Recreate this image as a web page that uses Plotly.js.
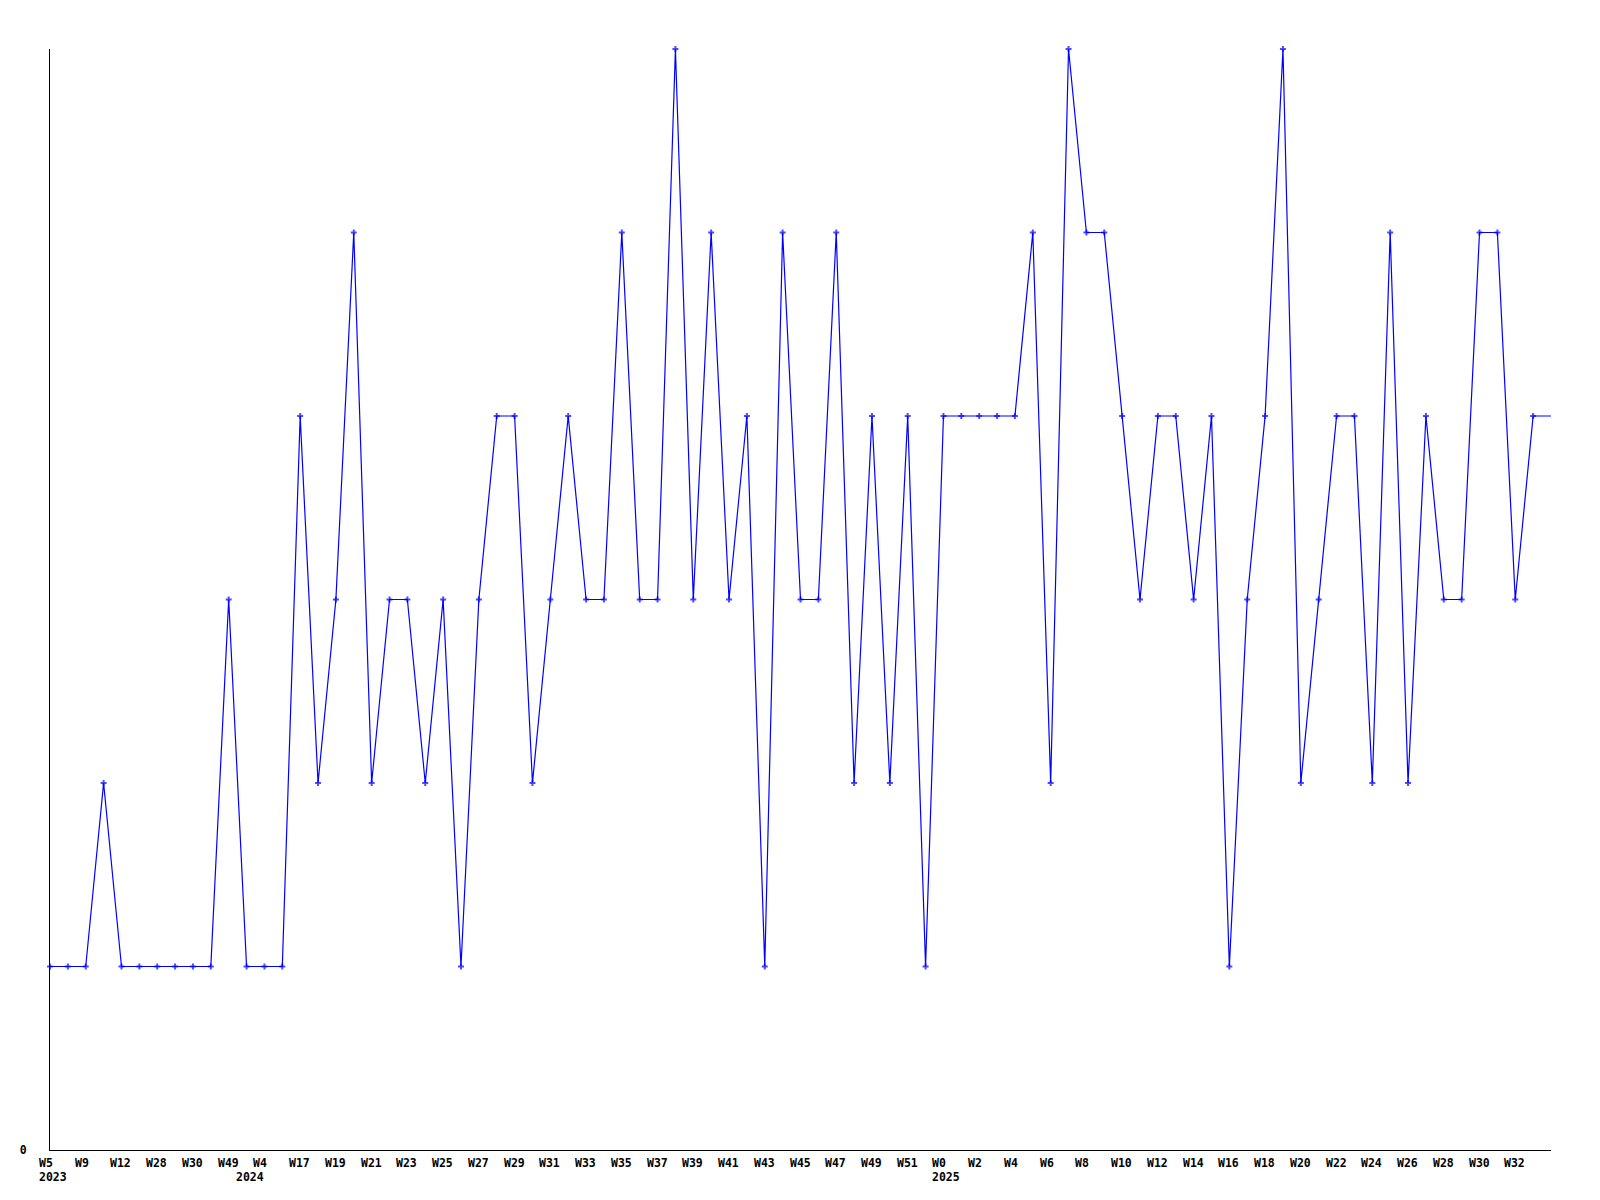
<!DOCTYPE html>
<html>
<head>
<meta charset="utf-8">
<script src="https://cdn.plot.ly/plotly-3.0.1.min.js"></script>
<style>
  html, body { margin: 0; padding: 0; background: #ffffff; }
  #chart { width: 1600px; height: 1200px; }
</style>
</head>
<body>
<div id="chart"></div>
<script>
// Weekly values (one per week, oldest first)
const values = [
  1,1,1,2,1,1,1,1,1,1,
  3,1,1,1,4,2,3,5,2,3,
  3,2,3,1,3,4,4,2,3,4,
  3,3,5,3,3,6,3,5,3,4,
  1,5,3,3,5,2,4,2,4,1,
  4,4,4,4,4,5,2,6,5,5,
  4,3,4,4,3,4,1,3,4,6,
  2,3,4,4,2,5,2,4,3,3,
  5,5,3,4,4
];

// Week labels, shown on every second week
const weekLabels = [
  "W5","W9","W12","W28","W30","W49","W4","W17","W19","W21",
  "W23","W25","W27","W29","W31","W33","W35","W37","W39","W41",
  "W43","W45","W47","W49","W51","W0","W2","W4","W6","W8",
  "W10","W12","W14","W16","W18","W20","W22","W24","W26","W28",
  "W30","W32"
];

// Year labels and the week index where each year starts
const yearLabels = ["2023", "2024", "2025"];
const yearStartWeek = [0, 11, 50];

const xIdx = values.map((v, i) => i);
const tickVals = weekLabels.map((t, i) => i * 2);
const markerSizes = values.map((v, i) => (i < values.length - 1 ? 5 : 0));

const fontFam = '"DejaVu Sans Mono", "Liberation Mono", monospace';
const labelFont = { family: fontFam, size: 11.5, color: '#000000', weight: 'bold' };

const trace = {
  x: xIdx,
  y: values,
  type: 'scatter',
  mode: 'lines+markers',
  line: { color: '#0000ff', width: 1.2 },
  marker: { color: '#0000ff', symbol: 'cross', size: markerSizes, line: { width: 0 } },
  cliponaxis: false,
  hoverinfo: 'skip'
};

const annotations = [];
weekLabels.forEach((t, i) => {
  annotations.push({
    x: tickVals[i], xref: 'x', y: 0, yref: 'paper',
    text: t, showarrow: false,
    xanchor: 'left', yanchor: 'middle',
    xshift: -11, yshift: -12.5,
    borderpad: 0, borderwidth: 0,
    font: labelFont
  });
});
yearLabels.forEach((t, i) => {
  annotations.push({
    x: yearStartWeek[i], xref: 'x', y: 0, yref: 'paper',
    text: t, showarrow: false,
    xanchor: 'left', yanchor: 'middle',
    xshift: -11, yshift: -27,
    borderpad: 0, borderwidth: 0,
    font: labelFont
  });
});

const layout = {
  width: 1600,
  height: 1200,
  margin: { l: 50, r: 49, t: 49, b: 50, pad: 0 },
  paper_bgcolor: '#ffffff',
  plot_bgcolor: '#ffffff',
  showlegend: false,
  font: labelFont,
  annotations: annotations,
  xaxis: {
    range: [0, values.length - 1],
    showgrid: false,
    zeroline: false,
    showline: true,
    linecolor: '#000000',
    linewidth: 1,
    ticks: '',
    tickmode: 'array',
    tickvals: tickVals,
    ticktext: weekLabels,
    showticklabels: false
  },
  yaxis: {
    range: [0, 6],
    showgrid: false,
    zeroline: false,
    showline: true,
    linecolor: '#000000',
    linewidth: 1,
    ticks: '',
    tickmode: 'array',
    tickvals: [0],
    ticktext: ['0'],
    ticklabelstandoff: 20,
    tickfont: labelFont
  }
};

Plotly.newPlot('chart', [trace], layout, { displayModeBar: false, staticPlot: true });
</script>
</body>
</html>
